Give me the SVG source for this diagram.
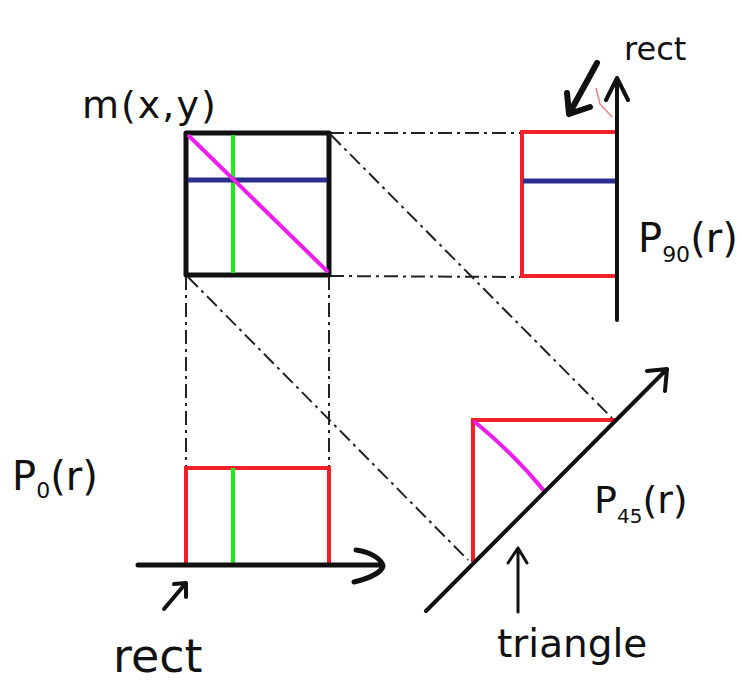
<svg xmlns="http://www.w3.org/2000/svg" width="741" height="692" viewBox="0 0 741 692">
<style>
.lbl{font-family:"DejaVu Sans","Liberation Sans",sans-serif;fill:#111}
.blk{stroke:#111;fill:none;stroke-linecap:round;stroke-linejoin:round}
.red{stroke:#f0202a;fill:none;stroke-width:4}
.grn{stroke:#22e81e;stroke-width:4}
.blu{stroke:#2a2e8e;stroke-width:5}
.mag{stroke:#ee1cee;stroke-width:4;fill:none;stroke-linecap:round}
.dash{stroke:#222;fill:none;stroke-width:2;stroke-dasharray:14 5 3 5}
</style>
<rect width="741" height="692" fill="#fff"/>
<g id="connectors">
<path class="dash" d="M186 276 L186 468"/>
<path class="dash" d="M329 276 L329 468"/>
<path class="dash" d="M330 133 L522 133"/>
<path class="dash" d="M330 276 L522 277"/>
<path class="dash" d="M331 135 L612 418"/>
<path class="dash" d="M188 277 L468 560"/>
</g>
<g id="image-mxy">
<rect x="186" y="133" width="143" height="142" class="blk" stroke-width="5"/>
<line x1="233" y1="135" x2="233" y2="273" class="grn"/>
<line x1="188" y1="180" x2="327" y2="180" class="blu"/>
<line x1="189" y1="136" x2="327" y2="271" class="mag"/>
<text class="lbl" x="82" y="118" font-size="38" letter-spacing="2">m(x,y)</text>
</g>
<g id="proj-90">
<path class="red" d="M617 132 L522 132 L522 276 L617 276"/>
<line x1="523" y1="181" x2="617" y2="181" class="blu"/>
<path class="blk" stroke-width="4" d="M617 320 L617 78 M606 100 L617 78 L628 100"/>
<path class="blk" stroke-width="6" d="M597 63 L569 114 M567 93 L569 114 L590 107"/>
<path d="M596 88 L600 104 L612 117" stroke="#f08080" stroke-width="1.5" fill="none"/>
<text class="lbl" x="624" y="60" font-size="32">rect</text>
<text class="lbl" x="638" y="252" font-size="40">P<tspan font-size="22" dy="10">90</tspan><tspan dy="-10">(r)</tspan></text>
</g>
<g id="proj-0">
<path class="red" d="M186 564 L186 468 L329 468 L329 564"/>
<line x1="233" y1="468" x2="233" y2="565" class="grn"/>
<path class="blk" stroke-width="5" d="M138 565 L380 565 M356 550 C372 552 382 560 383 566 C382 572 370 578 354 582"/>
<path class="blk" stroke-width="4" d="M164 609 L186 583 M174 584 L186 583 L186 597"/>
<text class="lbl" x="113" y="672" font-size="46">rect</text>
<text class="lbl" x="12" y="490" font-size="40">P<tspan font-size="22" dy="8">0</tspan><tspan dy="-8">(r)</tspan></text>
</g>
<g id="proj-45">
<path class="red" d="M473 562 L473 420 L617 420"/>
<path class="mag" d="M475 422 Q515 455 545 492"/>
<path class="blk" stroke-width="4" d="M426 611 L667 369 M647 371 L667 369 L665 391"/>
<path class="blk" stroke-width="3" d="M518 612 L518 548 M508 563 L518 548 L527 563"/>
<text class="lbl" x="497" y="657" font-size="39">triangle</text>
<text class="lbl" x="594" y="513" font-size="38">P<tspan font-size="20" dy="10">45</tspan><tspan dy="-10">(r)</tspan></text>
</g>
</svg>
